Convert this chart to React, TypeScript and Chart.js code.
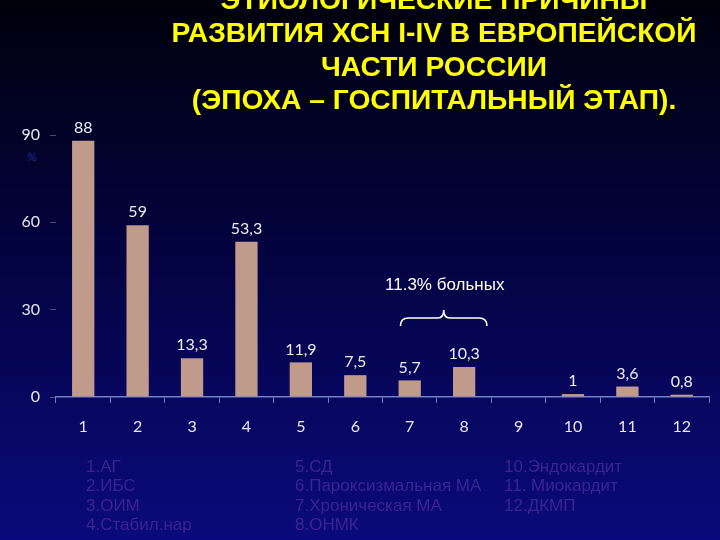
import React, { useEffect, useRef } from "react";
import { Chart, registerables } from "chart.js";

Chart.register(...registerables);

const categories = ["1", "2", "3", "4", "5", "6", "7", "8", "9", "10", "11", "12"];
const values: (number | null)[] = [88, 59, 13.3, 53.3, 11.9, 7.5, 5.7, 10.3, null, 1, 3.6, 0.8];
const yTicks = [0, 30, 60, 90];
const titleLines = [
  "ЭТИОЛОГИЧЕСКИЕ ПРИЧИНЫ",
  "РАЗВИТИЯ ХСН I-IV В ЕВРОПЕЙСКОЙ",
  "ЧАСТИ РОССИИ",
  "(ЭПОХА – ГОСПИТАЛЬНЫЙ ЭТАП).",
];
const annotationText = "11.3% больных";
const unitText = "%";
const legendCol1 = ["1.АГ", "2.ИБС", "3.ОИМ", "4.Стабил.нар"];
const legendCol2 = ["5.СД", "6.Пароксизмальная МА", "7.Хроническая МА", "8.ОНМК"];
const legendCol3 = ["10.Эндокардит", "11. Миокардит", "12.ДКМП"];

const W = 720;
const H = 540;

const fmt = (v: number) => String(v).replace(".", ",");

const backgroundPlugin = {
  id: "bg",
  beforeDraw(chart: any) {
    const ctx = chart.ctx;
    const g = ctx.createLinearGradient(0, 0, 0, H);
    g.addColorStop(0, "#00000c");
    g.addColorStop(0.45, "#03033e");
    g.addColorStop(1, "#0b0a7c");
    ctx.save();
    ctx.fillStyle = g;
    ctx.fillRect(0, 0, W, H);
    ctx.restore();
  },
};

const labelsPlugin = {
  id: "valueLabels",
  afterDatasetsDraw(chart: any) {
    const ctx = chart.ctx;
    const meta = chart.getDatasetMeta(0);
    ctx.save();
    ctx.font = "16px Lato";
    ctx.fillStyle = "#ececf4";
    ctx.textAlign = "center";
    ctx.textBaseline = "bottom";
    meta.data.forEach((bar: any, i: number) => {
      const v = values[i];
      if (v === null || v === undefined) return;
      ctx.fillText(fmt(v), bar.x, bar.y - 5);
    });
    ctx.restore();
  },
};

const overlayPlugin = {
  id: "overlay",
  afterDraw(chart: any) {
    const ctx = chart.ctx;
    const xs = chart.scales.x;
    ctx.save();

    // Title
    ctx.fillStyle = "#ffff00";
    ctx.font = "bold 27px 'Liberation Sans'";
    ctx.textAlign = "center";
    ctx.textBaseline = "alphabetic";
    const ref = ctx.measureText(titleLines[1]).width;
    const sx = 525 / ref;
    const cx = 434;
    const baselines = [8.5, 42, 75.5, 109];
    titleLines.forEach((line, i) => {
      ctx.save();
      ctx.translate(cx, baselines[i]);
      ctx.scale(sx, 1);
      ctx.fillText(line, 0, 0);
      ctx.restore();
    });

    // unit
    ctx.font = "12px Lato";
    ctx.fillStyle = "#2c2ca0";
    ctx.textAlign = "center";
    ctx.textBaseline = "middle";
    ctx.fillText(unitText, 32, 157);

    // annotation
    const x7 = xs.getPixelForValue(6);
    const x8 = xs.getPixelForValue(7);
    const step = xs.getPixelForValue(1) - xs.getPixelForValue(0);
    const L = x7 - 0.17 * step;
    const R = x8 + 0.42 * step;
    const M = (L + R) / 2;
    ctx.font = "17px 'Liberation Sans'";
    ctx.fillStyle = "#ffffff";
    ctx.textAlign = "center";
    ctx.textBaseline = "middle";
    ctx.fillText(annotationText, M + 1, 285);

    ctx.strokeStyle = "#ffffff";
    ctx.lineWidth = 1.6;
    ctx.beginPath();
    const yl = 318;
    ctx.moveTo(L, 326);
    ctx.quadraticCurveTo(L, yl, L + 8, yl);
    ctx.lineTo(M - 6, yl);
    ctx.quadraticCurveTo(M, yl, M, 310);
    ctx.quadraticCurveTo(M, yl, M + 6, yl);
    ctx.lineTo(R - 8, yl);
    ctx.quadraticCurveTo(R, yl, R, 326);
    ctx.stroke();

    // legend
    ctx.font = "17px 'Liberation Sans'";
    ctx.fillStyle = "#3a2392";
    ctx.textAlign = "left";
    ctx.textBaseline = "middle";
    const cols: [string[], number][] = [
      [legendCol1, 86],
      [legendCol2, 295],
      [legendCol3, 504],
    ];
    cols.forEach(([items, x]) => {
      items.forEach((t, i) => ctx.fillText(t, x, 467 + i * 19.5));
    });

    ctx.restore();
  },
};

export default function App() {
  const ref = useRef<HTMLCanvasElement | null>(null);

  useEffect(() => {
    if (!ref.current) return;
    const chart = new Chart(ref.current, {
      type: "bar",
      data: {
        labels: categories,
        datasets: [
          {
            data: values as any,
            backgroundColor: "#c09a8a",
            barPercentage: 0.41,
            categoryPercentage: 1,
          },
        ],
      },
      options: {
        responsive: false,
        animation: false,
        devicePixelRatio: 1,
        layout: { padding: { top: 135, right: 11, left: 0, bottom: 0 } },
        plugins: {
          legend: { display: false },
          tooltip: { enabled: false },
          title: { display: false },
        },
        scales: {
          x: {
            grid: {
              display: true,
              drawOnChartArea: false,
              drawTicks: true,
              tickLength: 6,
              color: "rgba(140,150,210,0.8)",
              offset: true,
            },
            border: { display: true, color: "#7480c8", width: 1.5 },
            ticks: {
              color: "#e6e6f0",
              font: { family: "Lato", size: 16 },
              padding: 14,
            },
            afterFit: (s: any) => {
              s.height = 143;
            },
          },
          y: {
            min: 0,
            max: 90,
            afterBuildTicks: (s: any) => {
              s.ticks = yTicks.map((v) => ({ value: v }));
            },
            ticks: {
              color: "#e6e6f0",
              font: { family: "Lato", size: 16 },
              padding: 10,
            },
            grid: {
              drawOnChartArea: false,
              drawTicks: true,
              tickLength: 6,
              color: "rgba(150,150,190,0.5)",
            },
            border: { display: false },
            afterFit: (s: any) => {
              s.width = 56;
            },
          },
        },
      },
      plugins: [backgroundPlugin, labelsPlugin, overlayPlugin],
    });
    return () => chart.destroy();
  }, []);

  return (
    <div style={{ position: "fixed", left: 0, top: 0, width: W, height: H }}>
      <canvas ref={ref} width={W} height={H} style={{ display: "block", width: W, height: H }} />
    </div>
  );
}
